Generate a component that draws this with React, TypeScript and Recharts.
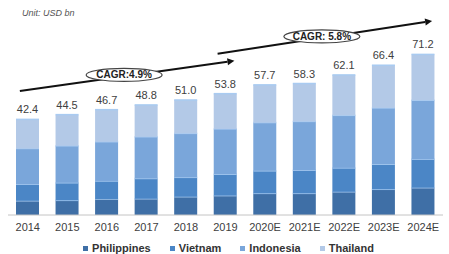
import React from "react";
import {
  BarChart,
  Bar,
  XAxis,
  YAxis,
  LabelList,
  ReferenceLine,
} from "recharts";

const years = [
  "2014", "2015", "2016", "2017", "2018", "2019",
  "2020E", "2021E", "2022E", "2023E", "2024E",
];
const philippines = [6.3, 6.5, 7.1, 7.2, 8.1, 8.6, 9.6, 9.6, 10.3, 11.4, 12.1];
const vietnam = [7.4, 7.8, 8.0, 9.0, 8.6, 9.5, 10.0, 10.3, 10.6, 11.1, 12.7];
const indonesia = [15.8, 16.4, 17.4, 18.5, 19.5, 20.1, 21.4, 21.6, 23.3, 25.0, 26.1];
const thailand = [12.9, 13.8, 14.2, 14.1, 14.8, 15.6, 16.7, 16.8, 17.9, 18.9, 20.3];
const totals = [42.4, 44.5, 46.7, 48.8, 51.0, 53.8, 57.7, 58.3, 62.1, 66.4, 71.2];

// CAGR arrows: [fromYear, fromValue, toYear, toValue, label]
const cagrArrows: [string, number, string, number, string][] = [
  ["2014", 55.5, "2019", 67.8, "CAGR:4.9%"],
  ["2019", 72.0, "2024E", 85.4, "CAGR: 5.8%"],
];

const series = [
  { key: "Philippines", color: "#3f6fa6" },
  { key: "Vietnam", color: "#4b86c6" },
  { key: "Indonesia", color: "#7aa6da" },
  { key: "Thailand", color: "#b3c9e7" },
];

const data = years.map((y, i) => ({
  year: y,
  Philippines: philippines[i],
  Vietnam: vietnam[i],
  Indonesia: indonesia[i],
  Thailand: thailand[i],
  total: totals[i],
}));

const FONT = "'Liberation Sans', Arial, sans-serif";

function segment(props: any) {
  const { x, y, width, height, fill } = props;
  return (
    <g>
      <rect x={x} y={y} width={width} height={height} fill={fill} />
      <line x1={x} x2={x + width} y1={y} y2={y} stroke="#a9cbf1" strokeWidth={1.5} />
    </g>
  );
}

function arrowShape(label: string) {
  return (props: any) => {
    const { x1, y1, x2, y2 } = props;
    if (x1 == null || x2 == null) return null;
    const dx = x2 - x1;
    const dy = y2 - y1;
    const len = Math.sqrt(dx * dx + dy * dy);
    const ux = dx / len;
    const uy = dy / len;
    const sx = x1 - ux * 8;
    const sy = y1 - uy * 8;
    const ex = x2 + ux * 9;
    const ey = y2 + uy * 9;
    const hx = ex - ux * 7;
    const hy = ey - uy * 7;
    const head = `${ex},${ey} ${hx - uy * 3.5},${hy + ux * 3.5} ${hx + uy * 3.5},${hy - ux * 3.5}`;
    const mx = (sx + ex) / 2 - 3;
    const my = (sy + ey) / 2 - 1;
    return (
      <g>
        <line x1={sx} y1={sy} x2={hx} y2={hy} stroke="#111" strokeWidth={2} />
        <polygon points={head} fill="#111" />
        <ellipse cx={mx} cy={my} rx={38} ry={6.5} fill="#fff" stroke="#444" strokeWidth={1.2} />
        <text
          x={mx}
          y={my}
          dy="0.35em"
          textAnchor="middle"
          fontSize={10}
          fontWeight="bold"
          fill="#222"
          fontFamily={FONT}
        >
          {label}
        </text>
      </g>
    );
  };
}

function LegendBox() {
  return (
    <div
      style={{
        position: "absolute",
        left: 0,
        top: 241,
        width: 449,
        display: "flex",
        justifyContent: "center",
        gap: 19,
        fontFamily: FONT,
        fontSize: 11,
        lineHeight: "14px",
        fontWeight: "bold",
        color: "#333",
        paddingLeft: 8,
        boxSizing: "border-box",
      }}
    >
      {series.map((s) => (
        <div key={s.key} style={{ display: "flex", alignItems: "center" }}>
          <span
            style={{
              width: 5,
              height: 5,
              background: s.color,
              display: "inline-block",
              marginRight: 4,
            }}
          />
          {s.key}
        </div>
      ))}
    </div>
  );
}

export default function App() {
  return (
    <div
      style={{
        position: "absolute",
        left: 0,
        top: 0,
        width: 449,
        height: 254,
        background: "#fff",
      }}
    >
      <div
        style={{
          position: "absolute",
          left: 22,
          top: 8,
          fontFamily: FONT,
          fontSize: 9,
          fontStyle: "italic",
          color: "#555",
        }}
      >
        Unit: USD bn
      </div>
      <BarChart
        width={449}
        height={254}
        data={data}
        margin={{ top: 12, right: 6, bottom: 9, left: 8 }}
        barSize={23}
      >
        <XAxis
          dataKey="year"
          height={30}
          tickLine={false}
          axisLine={{ stroke: "#c4c4c4" }}
          tick={{ fontSize: 11, fill: "#404040", fontFamily: FONT }}
          interval={0}
        />
        <YAxis hide domain={[0, 90]} />
        {series.map((s, idx) => (
          <Bar
            key={s.key}
            dataKey={s.key}
            stackId="a"
            fill={s.color}
            shape={segment}
            isAnimationActive={false}
          >
            {idx === series.length - 1 && (
              <LabelList
                dataKey="total"
                position="top"
                offset={6}
                formatter={(v: any) => Number(v).toFixed(1)}
                style={{ fontSize: 11, fill: "#404040", fontFamily: FONT }}
              />
            )}
          </Bar>
        ))}
        {cagrArrows.map((a) => (
          <ReferenceLine
            key={a[4]}
            segment={[
              { x: a[0], y: a[1] },
              { x: a[2], y: a[3] },
            ]}
            ifOverflow="visible"
            shape={arrowShape(a[4])}
          />
        ))}
      </BarChart>
      <LegendBox />
    </div>
  );
}
